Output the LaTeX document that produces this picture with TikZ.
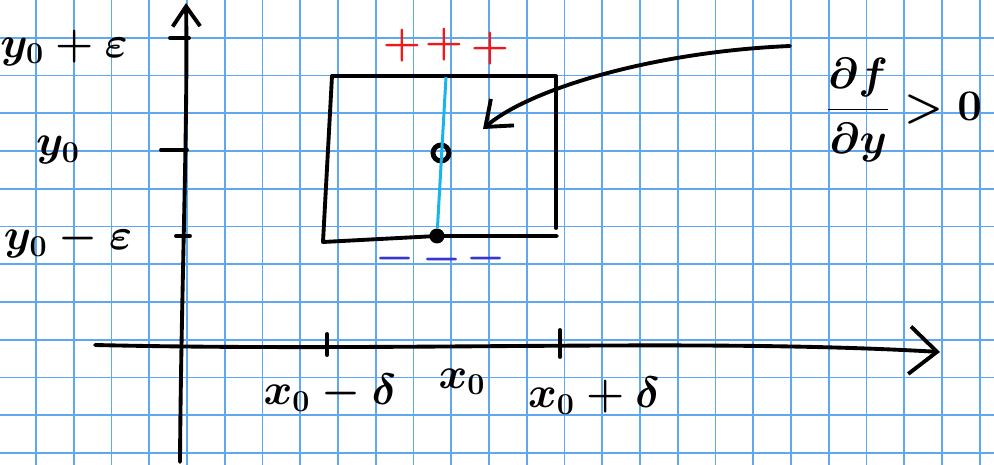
\documentclass[tikz,border=0pt]{standalone}
\usetikzlibrary{arrows.meta}
\definecolor{gridblue}{RGB}{95,168,240}
\definecolor{cyanink}{RGB}{25,180,235}
\definecolor{redink}{RGB}{240,25,25}
\definecolor{blueink}{RGB}{55,55,205}
\begin{document}
\begin{tikzpicture}[
    x=0.02cm, y=-0.02cm,
    every node/.style={font=\fontsize{27}{31}\selectfont\boldmath, inner sep=1pt},
    gridline/.style={draw=gridblue, line width=1.1pt},
    ink/.style={line width=2.2pt, line cap=round, line join=round},
    axis/.style={ink, -{Straight Barb[length=5.5mm, width=9.5mm, line width=2.2pt]}},
    yaxis/.style={ink, -{Straight Barb[length=4mm, width=5.5mm, line width=2.2pt]}},
    arr/.style={ink, -{Straight Barb[length=4.5mm, width=7mm, line width=2.2pt]}},
    dot/.style={circle, fill=black, minimum size=3mm, inner sep=0pt},
    ring/.style={circle, draw=black, line width=2.8pt, minimum size=3.2mm, inner sep=0pt},
    plusmark/.style={text=redink, font=\fontsize{32}{36}\selectfont\boldmath},
    minusmark/.style={text=blueink, font=\fontsize{32}{36}\selectfont\boldmath}
]
\useasboundingbox (0,0) rectangle (994,465);
\fill[white] (0,0) rectangle (994,465);
% Grid
\foreach \i in {0,...,25}
    \draw[gridline] ({36+37.75*\i},0) -- ({36+37.75*\i},465);
\foreach \j in {1,...,12}
    \draw[gridline] (0,{37.75*\j}) -- (994,{37.75*\j});

% Axes
\coordinate (ybot) at (180,462);
\coordinate (ytop) at (186,3);
\coordinate (xleft) at (95,345);
\coordinate (xright) at (940,352);
\draw[yaxis] (ybot) .. controls (181,300) and (188,120) .. (ytop);
\draw[axis] (xleft) .. controls (400,352) and (700,338) .. (xright);

% Ticks
\draw[ink] (170,38) -- (189,38);
\draw[ink] (161,150) -- (187,150);
\draw[ink] (176,236) -- (190,236);
\draw[ink] (327,334) -- (327,355);
\draw[ink] (560,330) -- (560,357);

% Labels
\node (ype) at (64,48) {$y_0+\varepsilon$};
\node (yo) at (58,150) {$y_0$};
\node (yme) at (68,240) {$y_0-\varepsilon$};
\node (xmd) at (330,393) {$x_0-\delta$};
\node (xo) at (462,382) {$x_0$};
\node (xpd) at (594,396) {$x_0+\delta$};

% Box
\draw[ink] (332,76) -- (556,76) -- (556,228);
\draw[ink] (332,76) -- (323,242) -- (437,236) -- (557,236);
\coordinate (top) at (446,77);
\node[ring] (mid) at (441,153) {};
\node[dot] (low) at (437,236) {};
\draw[cyanink, line width=1.7pt] (top) -- (low);

% Signs
\node[plusmark] (pa) at (402,46) {$+$};
\node[plusmark] (pb) at (444,45) {$+$};
\node[plusmark] (pc) at (490,49) {$+$};
\node[minusmark] (ma) at (395,259) {$-$};
\node[minusmark] (mb) at (442,260) {$-$};
\node[minusmark] (mc) at (486,259) {$-$};

% Condition
\coordinate (from) at (790,46);
\coordinate (tip) at (483,129);
\draw[arr] (from) .. controls (650,52) and (528,90) .. (tip);
\node[font=\fontsize{31}{36}\selectfont\boldmath, anchor=west] (cond) at (824,110) {$\displaystyle\frac{\partial f}{\partial y}>0$};
\end{tikzpicture}
\end{document}
